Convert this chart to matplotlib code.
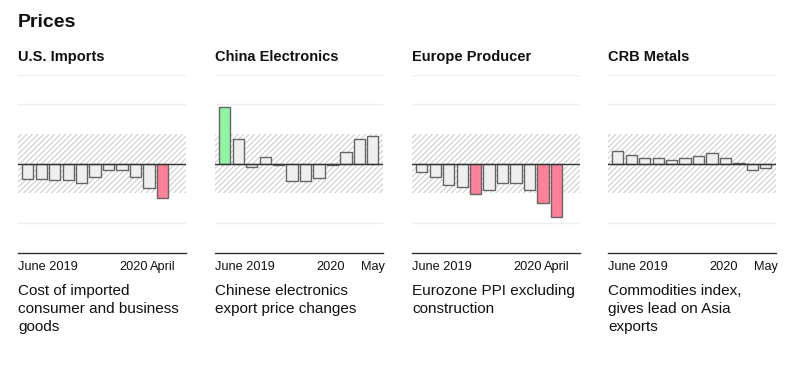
import numpy as np
import matplotlib.pyplot as plt

plt.rcParams['font.family'] = ['Liberation Sans', 'DejaVu Sans']
plt.rcParams['hatch.color'] = '#cfcfcf'
plt.rcParams['hatch.linewidth'] = 0.8

titles = ['U.S. Imports', 'China Electronics', 'Europe Producer', 'CRB Metals']
notes = ['Cost of imported\nconsumer and business\ngoods',
         'Chinese electronics\nexport price changes',
         'Eurozone PPI excluding\nconstruction',
         'Commodities index,\ngives lead on Asia\nexports']
end_labels = ['April', 'May', 'April', 'May']

# monthly readings, June 2019 onwards (shaded band = normal range -1..1)
us_imports = [-0.53, -0.53, -0.55, -0.55, -0.66, -0.43, -0.2, -0.2, -0.44, -0.82, -1.17]
china_elec = [1.92, 0.85, -0.12, 0.22, -0.04, -0.58, -0.58, -0.49, -0.04, 0.40, 0.85, 0.94]
europe_ppi = [-0.27, -0.45, -0.73, -0.80, -1.01, -0.87, -0.65, -0.65, -0.87, -1.31, -1.81]
crb_metals = [0.42, 0.29, 0.21, 0.18, 0.13, 0.18, 0.27, 0.35, 0.19, 0.01, -0.22, -0.16]
series = [us_imports, china_elec, europe_ppi, crb_metals]

fig = plt.figure(figsize=(8, 3.68), dpi=100)
fig.text(18/800, 1 - 27/368, 'Prices', fontsize=14, fontweight='bold', color='#111111')

lefts = [18, 215, 412, 608]
for i in range(4):
    ax = fig.add_axes([lefts[i]/800, 1 - 252.8/368, 168/800, (252.8 - 74.7)/368])
    vals = np.array(series[i])
    x = np.arange(len(vals))
    colors = []
    for v in vals:
        if v > 1:
            colors.append('#8ff5a3')
        elif v < -1:
            colors.append('#ff8099')
        else:
            colors.append('#efefef')

    ax.set_xlim(-0.73, 11.76)
    ax.set_ylim(-3, 3)
    ax.axhspan(-1, 1, facecolor='white', hatch='//////', edgecolor='#cfcfcf', linewidth=0, zorder=0)
    for g in [3, 2, -2]:
        ax.axhline(g, color='#eeeeee', linewidth=1, zorder=0)
    ax.bar(x, vals, width=0.84, color=colors, edgecolor='#666666', linewidth=1, zorder=2)
    ax.axhline(0, color='#333333', linewidth=1, zorder=3)

    for s in ['top', 'right', 'left']:
        ax.spines[s].set_visible(False)
    ax.spines['bottom'].set_color('#333333')
    ax.spines['bottom'].set_linewidth(1)
    ax.set_yticks([])
    ax.set_xticks([])

    ax.text(0, 1.06, titles[i], transform=ax.transAxes, fontsize=10.5, fontweight='bold',
            color='#111111', va='bottom', ha='left')
    ax.text(0, -0.045, 'June 2019', transform=ax.transAxes, fontsize=9.2, va='top', ha='left', color='#111111')
    ax.text(7.9, -0.045, '2020', transform=ax.get_xaxis_transform(), fontsize=9.2, va='top', ha='center', color='#111111')
    ax.text(len(vals) - 1, -0.045, end_labels[i], transform=ax.get_xaxis_transform(), fontsize=9.2,
            va='top', ha='center', color='#111111')
    ax.text(0, -0.175, notes[i], transform=ax.transAxes, fontsize=11, va='top', ha='left',
            color='#111111', linespacing=1.38)

fig.savefig('out.png', dpi=100, facecolor='white')
